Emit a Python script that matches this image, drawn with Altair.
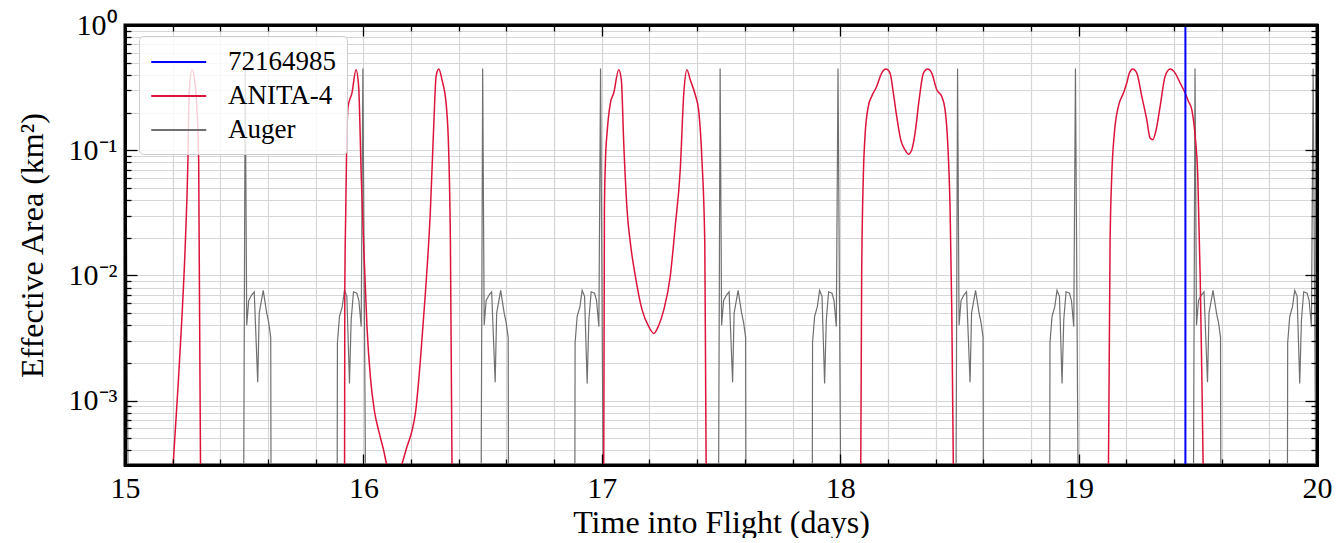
import altair as alt
import pandas as pd

# ---------------- data ----------------
SERIES = ["72164985", "ANITA-4", "Auger"]
COLORS = ["#0000ff", "#dc143c", "#707070"]

EVENT_TIME = [19.448]

ANITA_TIME = [
    [15.199, 15.211, 15.225, 15.239, 15.253, 15.264, 15.269, 15.281, 15.292, 15.302, 15.309, 15.317],
    [15.921, 15.922, 15.926, 15.930, 15.936, 15.952, 15.969, 15.980, 15.991, 16.001, 16.015, 16.029,
     16.046, 16.064, 16.085, 16.099, 16.130, 16.159, 16.183, 16.204, 16.218, 16.239, 16.260, 16.281,
     16.295, 16.305, 16.316, 16.330, 16.348, 16.358, 16.365, 16.372],
    [17.008, 17.011, 17.016, 17.022, 17.036, 17.050, 17.071, 17.082, 17.092, 17.106, 17.120, 17.141,
     17.169, 17.197, 17.218, 17.239, 17.260, 17.287, 17.308, 17.329, 17.344, 17.357, 17.371, 17.392,
     17.406, 17.420, 17.432, 17.436, 17.438],
    [18.086, 18.090, 18.097, 18.104, 18.118, 18.132, 18.153, 18.174, 18.192, 18.209, 18.223, 18.237,
     18.254, 18.272, 18.286, 18.300, 18.314, 18.331, 18.349, 18.367, 18.384, 18.405, 18.426, 18.440,
     18.451, 18.461, 18.468, 18.475],
    [19.125, 19.132, 19.139, 19.150, 19.167, 19.188, 19.202, 19.213, 19.227, 19.244, 19.265, 19.286,
     19.300, 19.311, 19.325, 19.342, 19.363, 19.384, 19.405, 19.426, 19.447, 19.461, 19.475, 19.489,
     19.500, 19.510, 19.517, 19.523],
]
ANITA_AREA = [
    [2.5e-4, 5.8e-4, 1.56e-3, 4.7e-3, 0.018, 0.0836, 0.286, 0.44, 0.365, 0.21, 0.0836, 2.5e-4],
    [2.5e-4, 7.6e-3, 0.033, 0.114, 0.225, 0.286, 0.44, 0.325, 0.062, 0.018, 3.9e-3, 1.56e-3,
     8.3e-4, 5.75e-4, 4.0e-4, 3.0e-4, 2.2e-4, 3.0e-4, 4.3e-4, 5.75e-4, 7.9e-4, 2.09e-3, 7.2e-3, 0.033,
     0.156, 0.39, 0.445, 0.363, 0.225, 0.0946, 0.018, 2.5e-4],
    [2.5e-4, 0.0333, 0.09, 0.137, 0.238, 0.286, 0.44, 0.365, 0.114, 0.0333, 0.018, 9.8e-3,
     5.3e-3, 3.9e-3, 3.44e-3, 4.0e-3, 5.3e-3, 9.8e-3, 0.0247, 0.0695, 0.286, 0.44, 0.365, 0.277,
     0.21, 0.0836, 0.018, 1.0e-3, 2.5e-4],
    [2.5e-4, 9.7e-3, 0.0617, 0.129, 0.224, 0.269, 0.323, 0.413, 0.445, 0.413, 0.286, 0.186,
     0.121, 0.1005, 0.093, 0.1005, 0.137, 0.252, 0.413, 0.445, 0.413, 0.304, 0.269, 0.21,
     0.114, 0.0333, 5.3e-3, 2.5e-4],
    [2.5e-4, 0.018, 0.0617, 0.137, 0.224, 0.286, 0.344, 0.413, 0.445, 0.413, 0.269, 0.175,
     0.125, 0.121, 0.145, 0.224, 0.389, 0.445, 0.413, 0.344, 0.286, 0.245, 0.21, 0.129,
     0.0617, 9.7e-3, 1.56e-3, 2.5e-4],
]

# Auger: cluster before each day boundary, and cluster after each half day
AUGER_PRE_START = [14.894, 15.890, 16.887, 17.883, 18.879, 19.876]
AUGER_PRE_OFFSET = [0.0, 0.001, 0.0096, 0.021, 0.0306, 0.0407, 0.0516, 0.0587, 0.0684, 0.0826,
                    0.091, 0.1007, 0.1078, 0.1187]
AUGER_PRE_AREA = [2.5e-4, 2.9e-3, 4.7e-3, 5.6e-3, 7.6e-3, 6.8e-3, 1.37e-3, 4.4e-3, 7.4e-3, 7.2e-3,
                  6.3e-3, 3.9e-3, 0.45, 2.5e-4]
AUGER_POST_START = [15.498, 16.494, 17.490, 18.486, 19.482]
AUGER_POST_OFFSET = [0.0, 0.0063, 0.0126, 0.021, 0.0336, 0.044, 0.0587, 0.065, 0.0818, 0.0965,
                     0.1049, 0.1133, 0.1145]
AUGER_POST_AREA = [2.5e-4, 0.45, 4.0e-3, 6.3e-3, 7.0e-3, 7.4e-3, 1.4e-3, 5.0e-3, 7.6e-3, 5.0e-3,
                   4.2e-3, 3.2e-3, 2.5e-4]

X_TICKS = [15.0, 15.2, 15.4, 15.6, 15.8, 16.0, 16.2, 16.4, 16.6, 16.8, 17.0, 17.2, 17.4, 17.6,
           17.8, 18.0, 18.2, 18.4, 18.6, 18.8, 19.0, 19.2, 19.4, 19.6, 19.8, 20.0]
Y_MANT = [1, 2, 3, 4, 5, 6, 7, 8, 9]
Y_EXP = [-4, -3, -2, -1]
Y_MIN = 3.06e-4
Y_TICKS = [m * 10.0 ** e for e in Y_EXP for m in Y_MANT if m * 10.0 ** e >= Y_MIN] + [1.0]

# ---------------- tables ----------------
rows = []
for i, (ts, vs) in enumerate(zip(ANITA_TIME, ANITA_AREA)):
    for t, v in zip(ts, vs):
        rows.append({"series": "ANITA-4", "seg": f"a{i}", "t": t, "area": v})
anita_df = pd.DataFrame(rows)

rows = []
for i, s in enumerate(AUGER_PRE_START):
    for o, v in zip(AUGER_PRE_OFFSET, AUGER_PRE_AREA):
        rows.append({"series": "Auger", "seg": f"p{i}", "t": s + o, "area": v})
for i, s in enumerate(AUGER_POST_START):
    for o, v in zip(AUGER_POST_OFFSET, AUGER_POST_AREA):
        rows.append({"series": "Auger", "seg": f"q{i}", "t": s + o, "area": v})
auger_df = pd.DataFrame(rows)

event_df = pd.DataFrame({"series": ["72164985", "72164985"], "seg": ["e0", "e0"],
                         "t": [EVENT_TIME[0], EVENT_TIME[0]], "area": [1e-6, 10.0]})

# ---------------- chart ----------------
W, H = 1192, 440
FONT = "Liberation Serif"

x_scale = alt.Scale(domain=[15, 20], nice=False, zero=False)
y_scale = alt.Scale(type="log", domain=[Y_MIN, 1], nice=False)

X_MAJOR = "abs(datum.value - round(datum.value)) < 0.001"
Y_MAJOR = "abs(log(datum.value)/LN10 - round(log(datum.value)/LN10)) < 0.001"
Y_LABEL = ("abs(log(datum.value)/LN10 - round(log(datum.value)/LN10)) > 0.001 ? '' : "
           "(round(log(datum.value)/LN10) == 0 ? '10⁰' : "
           "round(log(datum.value)/LN10) == -1 ? '10⁻¹' : "
           "round(log(datum.value)/LN10) == -2 ? '10⁻²' : '10⁻³')")

x_tick = {"condition": {"test": X_MAJOR, "value": 11}, "value": 6}
y_tick = {"condition": {"test": Y_MAJOR, "value": 12}, "value": 6}

legend = alt.Legend(
    orient="none", legendX=14, legendY=11, title=None,
    symbolType="M-1,0L3,0", symbolSize=756, symbolStrokeWidth=1.8,
    labelFont=FONT, labelFontSize=27, labelColor="black", labelOffset=48,
    padding=11, rowPadding=6, fillColor="rgba(255,255,255,0.8)",
    strokeColor="#cccccc", cornerRadius=4,
)
color = alt.Color("series:N", scale=alt.Scale(domain=SERIES, range=COLORS), legend=legend)

# axis set A: labels + grid
ax_xa = alt.Axis(orient="bottom", values=X_TICKS, grid=True, gridColor="#d6d6d6", gridWidth=1.2,
                 ticks=False, domain=False, labelExpr=f"{X_MAJOR} ? format(datum.value, 'd') : ''",
                 labelFont=FONT, labelFontSize=30, labelColor="black", labelPadding=8,
                 labelFlush=False, labelOverlap=False,
                 title="Time into Flight (days)", titleFont=FONT, titleFontSize=32,
                 titleFontWeight="normal", titleColor="black", titleY=57, titleBaseline="middle",
                 zindex=0)
ax_ya = alt.Axis(orient="left", values=Y_TICKS, grid=True, gridColor="#d6d6d6", gridWidth=1.2,
                 ticks=False, domain=False, labelExpr=Y_LABEL,
                 labelFont=FONT, labelFontSize=30, labelColor="black", labelPadding=8,
                 labelFlush=False, labelOverlap=False,
                 title="Effective Area (km²)", titleFont=FONT, titleFontSize=32,
                 titleFontWeight="normal", titleColor="black", titleX=-93, titleY=H / 2,
                 titleAngle=-90, titleAlign="center", titleBaseline="middle", zindex=0)

def tick_axis(orient, offset, values, ts):
    return alt.Axis(orient=orient, offset=offset, values=values, grid=False, labels=False,
                    ticks=True, tickSize=ts, tickColor="black", tickWidth=1.3,
                    domain=True, domainColor="black", domainWidth=3, domainCap="square",
                    title=None, zindex=1)

auger = alt.Chart(auger_df).mark_line(strokeWidth=1.2, clip=True).encode(
    x=alt.X("t:Q", scale=x_scale, axis=ax_xa),
    y=alt.Y("area:Q", scale=y_scale, axis=ax_ya),
    color=color,
    detail="seg:N",
)
anita = alt.Chart(anita_df).mark_line(strokeWidth=1.5, clip=True, interpolate="monotone").encode(
    x=alt.X("t:Q", scale=x_scale, axis=tick_axis("top", -H, X_TICKS, x_tick)),
    y=alt.Y("area:Q", scale=y_scale, axis=tick_axis("right", -W, Y_TICKS, y_tick)),
    color=color,
    detail="seg:N",
)
event = alt.Chart(event_df).mark_line(strokeWidth=2, clip=True).encode(
    x=alt.X("t:Q", scale=x_scale, axis=tick_axis("bottom", -H, X_TICKS, x_tick)),
    y=alt.Y("area:Q", scale=y_scale, axis=tick_axis("left", -W, Y_TICKS, y_tick)),
    color=color,
    detail="seg:N",
)

chart = (
    alt.layer(auger, anita, event)
    .resolve_axis(x="independent", y="independent")
    .properties(width=W, height=H, padding={"left": 8, "top": 2, "right": 0, "bottom": 0},
                background="white")
    .configure_view(stroke="black", strokeWidth=3)
)

chart.save("out.html", embed_options={"renderer": "svg", "actions": False})
